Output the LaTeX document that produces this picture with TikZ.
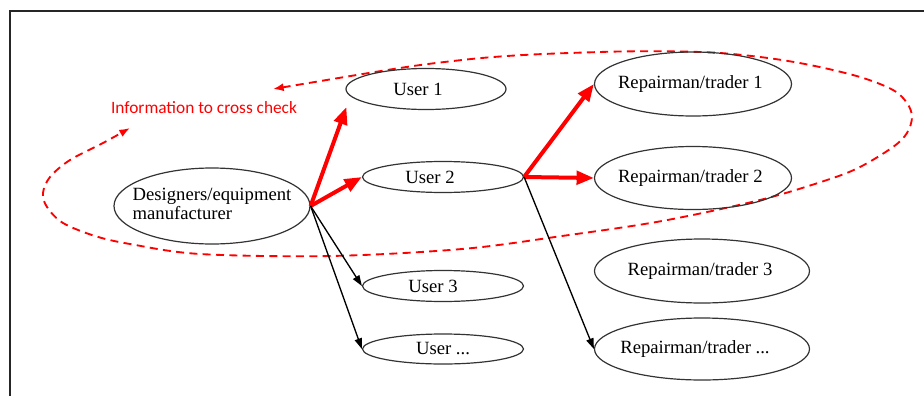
\documentclass[tikz,border=0pt]{standalone}
\usepackage{fontspec}
\setmainfont{Liberation Serif}
\newfontfamily\calfont{Carlito}
\usetikzlibrary{arrows.meta,calc,shapes.geometric}
\newcommand\ztext[2]{\makebox[0pt]{#2\kern#1}}
\begin{document}
\begin{tikzpicture}[x=0.75pt,y=-0.75pt,
  oval/.style={ellipse,draw=black!80,line width=0.9pt,inner sep=0pt,font=\fontsize{14}{14.5}\selectfont},
  redarrow/.style={red,line width=3pt,-{Triangle[length=13pt,width=10pt]}},
  blkarrow/.style={black,line width=1pt,-{Triangle[length=8pt,width=5.5pt]}},
  crossline/.style={red,line width=1.4pt,dash pattern=on 6pt off 4pt,{Latex[length=8pt,width=6pt]}-{Latex[length=8pt,width=6pt]}},
  infotext/.style={text=red,font=\calfont\fontsize{13}{15}\selectfont,inner sep=0pt}]
\useasboundingbox (0,0) rectangle (924,396);
% frame
\draw[line width=1.1pt,black!85] (10,396) -- (10,11) -- (924,11);
% dashed cross-check loop
\coordinate (ia) at (273,89);
\coordinate (ib) at (130,128);
\node[infotext] (info) at (204,108) {Information to cross check};
\draw[crossline] plot[smooth,tension=0.55] coordinates {(ia) (462,60) (600,52) (700,52) (760,57) (810,65) (860,77) (893,90) (907,103) (912,117) (907,133) (893,147) (860,167) (827,180) (760,200) (662,221) (562,236) (462,249) (330,256) (200,254) (130,244) (95,236) (63,223) (47,207) (43,193) (50,177) (70,160) (103,143) (ib)};
% nodes
\node[oval,minimum width=147pt,minimum height=57pt] (des) at (212,206) {\makebox[0pt]{\begin{tabular}{@{}l@{}}Designers/equipment\\manufacturer\end{tabular}}};
\node[oval,minimum width=120pt,minimum height=30.75pt] (u1) at (426,89) {\ztext{12pt}{User 1}};
\node[oval,minimum width=120.75pt,minimum height=23.25pt] (u2) at (443,177) {\ztext{19.5pt}{User 2}};
\node[oval,minimum width=120.75pt,minimum height=23.25pt] (u3) at (443,286) {\ztext{15pt}{User 3}};
\node[oval,minimum width=120.75pt,minimum height=22.5pt] (u4) at (443,349) {\ztext{0pt}{User ...}};
\node[oval,minimum width=147.75pt,minimum height=48pt] (r1) at (693,84) {\ztext{4pt}{Repairman/trader 1}};
\node[oval,minimum width=147.75pt,minimum height=47.25pt] (r2) at (693,178) {\ztext{4pt}{Repairman/trader 2}};
\node[oval,minimum width=161.25pt,minimum height=48pt] (r3) at (702,271) {\ztext{3pt}{Repairman/trader 3}};
\node[oval,minimum width=161.25pt,minimum height=46.5pt] (r4) at (702,349) {\ztext{10.5pt}{Repairman/trader ...}};
% connectors
\draw[redarrow] (des.east) -- ($(u1.west)+(1,18)$);
\draw[redarrow] (des.east) -- (u2.west);
\draw[redarrow] (u2.east) -- (r1.west);
\draw[redarrow] (u2.east) -- (r2.west);
\draw[blkarrow] (des.east) -- (u3.west);
\draw[blkarrow] (des.east) -- (u4.west);
\draw[blkarrow] (u2.east) -- (r4.west);
\end{tikzpicture}
\end{document}
